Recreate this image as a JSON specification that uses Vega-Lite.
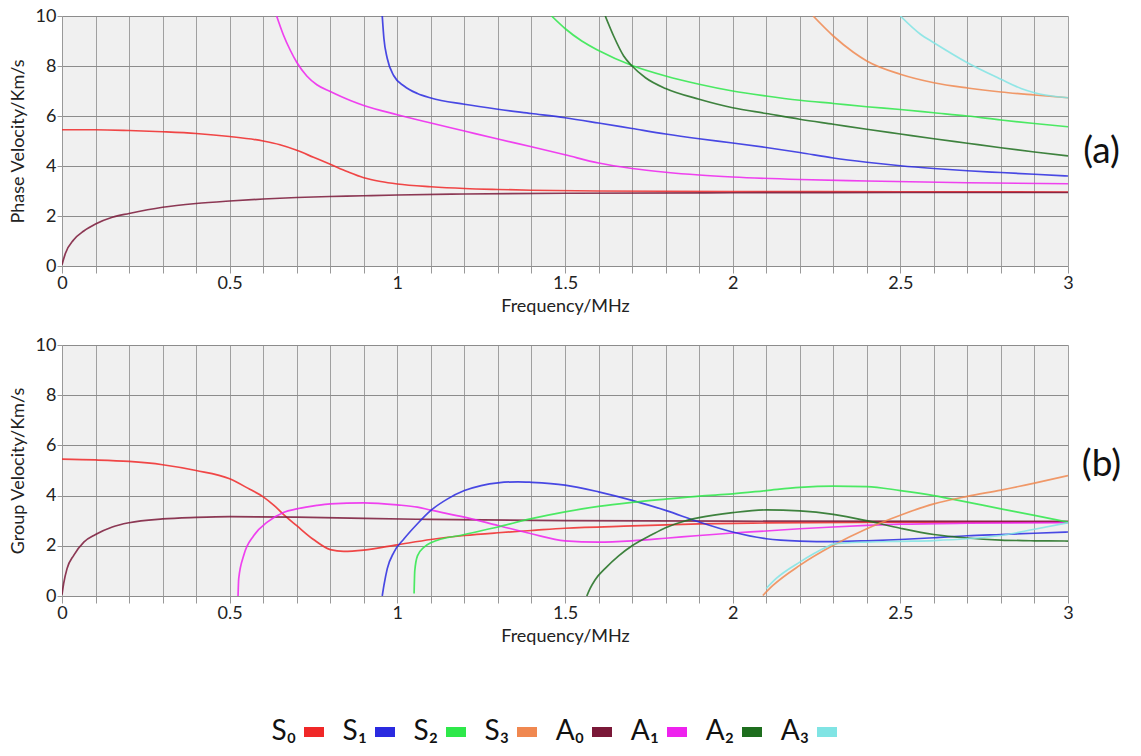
{
  "$schema": "https://vega.github.io/schema/vega-lite/v6.json",
  "padding": {"left": 9, "top": 7, "right": 5, "bottom": 0},
  "background": "white",
  "spacing": 21,
  "datasets": {
    "phase": [
      {"m": "S₀", "f": 0, "v": 5.45}, {"m": "S₀", "f": 0.1, "v": 5.45}, {"m": "S₀", "f": 0.2, "v": 5.42}, {"m": "S₀", "f": 0.3, "v": 5.37}, {"m": "S₀", "f": 0.4, "v": 5.3}, {"m": "S₀", "f": 0.5, "v": 5.18}, {"m": "S₀", "f": 0.6, "v": 5.0}, {"m": "S₀", "f": 0.65, "v": 4.85}, {"m": "S₀", "f": 0.7, "v": 4.63}, {"m": "S₀", "f": 0.75, "v": 4.35}, {"m": "S₀", "f": 0.8, "v": 4.07}, {"m": "S₀", "f": 0.85, "v": 3.78}, {"m": "S₀", "f": 0.9, "v": 3.53}, {"m": "S₀", "f": 0.95, "v": 3.38}, {"m": "S₀", "f": 1.0, "v": 3.28}, {"m": "S₀", "f": 1.1, "v": 3.17}, {"m": "S₀", "f": 1.2, "v": 3.1}, {"m": "S₀", "f": 1.3, "v": 3.06}, {"m": "S₀", "f": 1.4, "v": 3.03}, {"m": "S₀", "f": 1.6, "v": 3.0}, {"m": "S₀", "f": 2.0, "v": 2.98}, {"m": "S₀", "f": 2.5, "v": 2.97}, {"m": "S₀", "f": 3.0, "v": 2.96},
      {"m": "A₀", "f": 0, "v": 0.05}, {"m": "A₀", "f": 0.01, "v": 0.5}, {"m": "A₀", "f": 0.035, "v": 1.05}, {"m": "A₀", "f": 0.065, "v": 1.4}, {"m": "A₀", "f": 0.1, "v": 1.68}, {"m": "A₀", "f": 0.15, "v": 1.95}, {"m": "A₀", "f": 0.2, "v": 2.1}, {"m": "A₀", "f": 0.3, "v": 2.35}, {"m": "A₀", "f": 0.4, "v": 2.5}, {"m": "A₀", "f": 0.5, "v": 2.6}, {"m": "A₀", "f": 0.6, "v": 2.68}, {"m": "A₀", "f": 0.7, "v": 2.74}, {"m": "A₀", "f": 0.8, "v": 2.78}, {"m": "A₀", "f": 0.9, "v": 2.81}, {"m": "A₀", "f": 1.0, "v": 2.84}, {"m": "A₀", "f": 1.2, "v": 2.88}, {"m": "A₀", "f": 1.5, "v": 2.91}, {"m": "A₀", "f": 2.0, "v": 2.93}, {"m": "A₀", "f": 2.5, "v": 2.94}, {"m": "A₀", "f": 3.0, "v": 2.94},
      {"m": "A₁", "f": 0.64, "v": 10}, {"m": "A₁", "f": 0.66, "v": 9.25}, {"m": "A₁", "f": 0.68, "v": 8.65}, {"m": "A₁", "f": 0.7, "v": 8.15}, {"m": "A₁", "f": 0.73, "v": 7.6}, {"m": "A₁", "f": 0.76, "v": 7.25}, {"m": "A₁", "f": 0.8, "v": 6.98}, {"m": "A₁", "f": 0.86, "v": 6.62}, {"m": "A₁", "f": 0.9, "v": 6.42}, {"m": "A₁", "f": 1.0, "v": 6.05}, {"m": "A₁", "f": 1.1, "v": 5.72}, {"m": "A₁", "f": 1.2, "v": 5.4}, {"m": "A₁", "f": 1.3, "v": 5.08}, {"m": "A₁", "f": 1.4, "v": 4.77}, {"m": "A₁", "f": 1.5, "v": 4.45}, {"m": "A₁", "f": 1.6, "v": 4.12}, {"m": "A₁", "f": 1.7, "v": 3.9}, {"m": "A₁", "f": 1.8, "v": 3.75}, {"m": "A₁", "f": 1.9, "v": 3.64}, {"m": "A₁", "f": 2.0, "v": 3.56}, {"m": "A₁", "f": 2.2, "v": 3.46}, {"m": "A₁", "f": 2.4, "v": 3.4}, {"m": "A₁", "f": 2.7, "v": 3.33}, {"m": "A₁", "f": 3.0, "v": 3.29},
      {"m": "S₁", "f": 0.955, "v": 10}, {"m": "S₁", "f": 0.96, "v": 9.1}, {"m": "S₁", "f": 0.97, "v": 8.3}, {"m": "S₁", "f": 0.99, "v": 7.6}, {"m": "S₁", "f": 1.02, "v": 7.2}, {"m": "S₁", "f": 1.06, "v": 6.9}, {"m": "S₁", "f": 1.1, "v": 6.72}, {"m": "S₁", "f": 1.2, "v": 6.47}, {"m": "S₁", "f": 1.3, "v": 6.27}, {"m": "S₁", "f": 1.4, "v": 6.1}, {"m": "S₁", "f": 1.5, "v": 5.93}, {"m": "S₁", "f": 1.6, "v": 5.72}, {"m": "S₁", "f": 1.7, "v": 5.5}, {"m": "S₁", "f": 1.8, "v": 5.28}, {"m": "S₁", "f": 1.9, "v": 5.09}, {"m": "S₁", "f": 2.0, "v": 4.92}, {"m": "S₁", "f": 2.1, "v": 4.74}, {"m": "S₁", "f": 2.2, "v": 4.54}, {"m": "S₁", "f": 2.3, "v": 4.32}, {"m": "S₁", "f": 2.4, "v": 4.15}, {"m": "S₁", "f": 2.5, "v": 4.01}, {"m": "S₁", "f": 2.6, "v": 3.9}, {"m": "S₁", "f": 2.7, "v": 3.81}, {"m": "S₁", "f": 2.8, "v": 3.74}, {"m": "S₁", "f": 2.9, "v": 3.67}, {"m": "S₁", "f": 3.0, "v": 3.6},
      {"m": "S₂", "f": 1.46, "v": 10}, {"m": "S₂", "f": 1.5, "v": 9.5}, {"m": "S₂", "f": 1.55, "v": 9.0}, {"m": "S₂", "f": 1.6, "v": 8.62}, {"m": "S₂", "f": 1.7, "v": 8.02}, {"m": "S₂", "f": 1.8, "v": 7.6}, {"m": "S₂", "f": 1.9, "v": 7.27}, {"m": "S₂", "f": 2.0, "v": 7.0}, {"m": "S₂", "f": 2.1, "v": 6.8}, {"m": "S₂", "f": 2.2, "v": 6.63}, {"m": "S₂", "f": 2.3, "v": 6.5}, {"m": "S₂", "f": 2.4, "v": 6.37}, {"m": "S₂", "f": 2.5, "v": 6.26}, {"m": "S₂", "f": 2.6, "v": 6.13}, {"m": "S₂", "f": 2.7, "v": 6.0}, {"m": "S₂", "f": 2.8, "v": 5.84}, {"m": "S₂", "f": 2.9, "v": 5.7}, {"m": "S₂", "f": 3.0, "v": 5.57},
      {"m": "A₂", "f": 1.62, "v": 10}, {"m": "A₂", "f": 1.645, "v": 9.2}, {"m": "A₂", "f": 1.675, "v": 8.4}, {"m": "A₂", "f": 1.7, "v": 8.0}, {"m": "A₂", "f": 1.74, "v": 7.53}, {"m": "A₂", "f": 1.8, "v": 7.1}, {"m": "A₂", "f": 1.9, "v": 6.67}, {"m": "A₂", "f": 2.0, "v": 6.33}, {"m": "A₂", "f": 2.1, "v": 6.1}, {"m": "A₂", "f": 2.2, "v": 5.87}, {"m": "A₂", "f": 2.3, "v": 5.67}, {"m": "A₂", "f": 2.4, "v": 5.47}, {"m": "A₂", "f": 2.5, "v": 5.28}, {"m": "A₂", "f": 2.6, "v": 5.09}, {"m": "A₂", "f": 2.7, "v": 4.91}, {"m": "A₂", "f": 2.8, "v": 4.73}, {"m": "A₂", "f": 2.9, "v": 4.56}, {"m": "A₂", "f": 3.0, "v": 4.4},
      {"m": "S₃", "f": 2.24, "v": 10}, {"m": "S₃", "f": 2.3, "v": 9.2}, {"m": "S₃", "f": 2.36, "v": 8.55}, {"m": "S₃", "f": 2.4, "v": 8.2}, {"m": "S₃", "f": 2.5, "v": 7.67}, {"m": "S₃", "f": 2.6, "v": 7.33}, {"m": "S₃", "f": 2.7, "v": 7.12}, {"m": "S₃", "f": 2.8, "v": 6.96}, {"m": "S₃", "f": 2.9, "v": 6.84}, {"m": "S₃", "f": 3.0, "v": 6.73},
      {"m": "A₃", "f": 2.5, "v": 10}, {"m": "A₃", "f": 2.56, "v": 9.27}, {"m": "A₃", "f": 2.6, "v": 8.93}, {"m": "A₃", "f": 2.7, "v": 8.13}, {"m": "A₃", "f": 2.8, "v": 7.47}, {"m": "A₃", "f": 2.86, "v": 7.1}, {"m": "A₃", "f": 2.9, "v": 6.93}, {"m": "A₃", "f": 3.0, "v": 6.73}
    ],
    "group": [
      {"m": "S₀", "f": 0, "v": 5.45}, {"m": "S₀", "f": 0.1, "v": 5.42}, {"m": "S₀", "f": 0.2, "v": 5.36}, {"m": "S₀", "f": 0.3, "v": 5.23}, {"m": "S₀", "f": 0.4, "v": 5.0}, {"m": "S₀", "f": 0.5, "v": 4.67}, {"m": "S₀", "f": 0.56, "v": 4.25}, {"m": "S₀", "f": 0.6, "v": 3.95}, {"m": "S₀", "f": 0.633, "v": 3.6}, {"m": "S₀", "f": 0.667, "v": 3.17}, {"m": "S₀", "f": 0.7, "v": 2.8}, {"m": "S₀", "f": 0.75, "v": 2.25}, {"m": "S₀", "f": 0.8, "v": 1.85}, {"m": "S₀", "f": 0.84, "v": 1.78}, {"m": "S₀", "f": 0.9, "v": 1.83}, {"m": "S₀", "f": 1.0, "v": 2.04}, {"m": "S₀", "f": 1.1, "v": 2.25}, {"m": "S₀", "f": 1.2, "v": 2.41}, {"m": "S₀", "f": 1.3, "v": 2.52}, {"m": "S₀", "f": 1.4, "v": 2.61}, {"m": "S₀", "f": 1.5, "v": 2.7}, {"m": "S₀", "f": 1.7, "v": 2.79}, {"m": "S₀", "f": 1.9, "v": 2.87}, {"m": "S₀", "f": 2.1, "v": 2.91}, {"m": "S₀", "f": 2.5, "v": 2.94}, {"m": "S₀", "f": 3.0, "v": 2.95},
      {"m": "A₀", "f": 0, "v": 0.05}, {"m": "A₀", "f": 0.005, "v": 0.5}, {"m": "A₀", "f": 0.015, "v": 1.09}, {"m": "A₀", "f": 0.035, "v": 1.62}, {"m": "A₀", "f": 0.065, "v": 2.15}, {"m": "A₀", "f": 0.1, "v": 2.45}, {"m": "A₀", "f": 0.15, "v": 2.75}, {"m": "A₀", "f": 0.2, "v": 2.92}, {"m": "A₀", "f": 0.3, "v": 3.07}, {"m": "A₀", "f": 0.4, "v": 3.13}, {"m": "A₀", "f": 0.5, "v": 3.16}, {"m": "A₀", "f": 0.7, "v": 3.14}, {"m": "A₀", "f": 0.9, "v": 3.09}, {"m": "A₀", "f": 1.1, "v": 3.05}, {"m": "A₀", "f": 1.5, "v": 3.0}, {"m": "A₀", "f": 2.0, "v": 2.98}, {"m": "A₀", "f": 3.0, "v": 2.97},
      {"m": "A₁", "f": 0.525, "v": 0}, {"m": "A₁", "f": 0.527, "v": 0.69}, {"m": "A₁", "f": 0.542, "v": 1.62}, {"m": "A₁", "f": 0.572, "v": 2.41}, {"m": "A₁", "f": 0.612, "v": 2.94}, {"m": "A₁", "f": 0.662, "v": 3.34}, {"m": "A₁", "f": 0.7, "v": 3.47}, {"m": "A₁", "f": 0.76, "v": 3.61}, {"m": "A₁", "f": 0.8, "v": 3.67}, {"m": "A₁", "f": 0.9, "v": 3.71}, {"m": "A₁", "f": 1.0, "v": 3.63}, {"m": "A₁", "f": 1.06, "v": 3.54}, {"m": "A₁", "f": 1.1, "v": 3.42}, {"m": "A₁", "f": 1.2, "v": 3.14}, {"m": "A₁", "f": 1.3, "v": 2.81}, {"m": "A₁", "f": 1.4, "v": 2.48}, {"m": "A₁", "f": 1.5, "v": 2.2}, {"m": "A₁", "f": 1.6, "v": 2.15}, {"m": "A₁", "f": 1.7, "v": 2.2}, {"m": "A₁", "f": 1.8, "v": 2.3}, {"m": "A₁", "f": 1.9, "v": 2.41}, {"m": "A₁", "f": 2.0, "v": 2.51}, {"m": "A₁", "f": 2.1, "v": 2.59}, {"m": "A₁", "f": 2.2, "v": 2.68}, {"m": "A₁", "f": 2.3, "v": 2.75}, {"m": "A₁", "f": 2.4, "v": 2.81}, {"m": "A₁", "f": 2.5, "v": 2.86}, {"m": "A₁", "f": 2.7, "v": 2.9}, {"m": "A₁", "f": 3.0, "v": 2.92},
      {"m": "S₁", "f": 0.955, "v": 0}, {"m": "S₁", "f": 0.96, "v": 0.42}, {"m": "S₁", "f": 0.97, "v": 1.09}, {"m": "S₁", "f": 0.99, "v": 1.75}, {"m": "S₁", "f": 1.02, "v": 2.28}, {"m": "S₁", "f": 1.06, "v": 2.88}, {"m": "S₁", "f": 1.1, "v": 3.41}, {"m": "S₁", "f": 1.15, "v": 3.87}, {"m": "S₁", "f": 1.2, "v": 4.2}, {"m": "S₁", "f": 1.25, "v": 4.4}, {"m": "S₁", "f": 1.3, "v": 4.51}, {"m": "S₁", "f": 1.36, "v": 4.55}, {"m": "S₁", "f": 1.4, "v": 4.53}, {"m": "S₁", "f": 1.5, "v": 4.42}, {"m": "S₁", "f": 1.6, "v": 4.15}, {"m": "S₁", "f": 1.7, "v": 3.81}, {"m": "S₁", "f": 1.8, "v": 3.41}, {"m": "S₁", "f": 1.9, "v": 2.95}, {"m": "S₁", "f": 2.0, "v": 2.55}, {"m": "S₁", "f": 2.1, "v": 2.28}, {"m": "S₁", "f": 2.2, "v": 2.19}, {"m": "S₁", "f": 2.3, "v": 2.17}, {"m": "S₁", "f": 2.4, "v": 2.2}, {"m": "S₁", "f": 2.5, "v": 2.25}, {"m": "S₁", "f": 2.6, "v": 2.32}, {"m": "S₁", "f": 2.7, "v": 2.4}, {"m": "S₁", "f": 2.8, "v": 2.45}, {"m": "S₁", "f": 2.9, "v": 2.5}, {"m": "S₁", "f": 3.0, "v": 2.55},
      {"m": "S₂", "f": 1.05, "v": 0.1}, {"m": "S₂", "f": 1.052, "v": 1.0}, {"m": "S₂", "f": 1.06, "v": 1.6}, {"m": "S₂", "f": 1.08, "v": 1.95}, {"m": "S₂", "f": 1.1, "v": 2.12}, {"m": "S₂", "f": 1.2, "v": 2.45}, {"m": "S₂", "f": 1.3, "v": 2.75}, {"m": "S₂", "f": 1.4, "v": 3.08}, {"m": "S₂", "f": 1.5, "v": 3.35}, {"m": "S₂", "f": 1.6, "v": 3.57}, {"m": "S₂", "f": 1.7, "v": 3.73}, {"m": "S₂", "f": 1.8, "v": 3.86}, {"m": "S₂", "f": 1.9, "v": 3.98}, {"m": "S₂", "f": 2.0, "v": 4.07}, {"m": "S₂", "f": 2.1, "v": 4.2}, {"m": "S₂", "f": 2.2, "v": 4.33}, {"m": "S₂", "f": 2.3, "v": 4.38}, {"m": "S₂", "f": 2.4, "v": 4.36}, {"m": "S₂", "f": 2.5, "v": 4.2}, {"m": "S₂", "f": 2.6, "v": 4.0}, {"m": "S₂", "f": 2.7, "v": 3.74}, {"m": "S₂", "f": 2.8, "v": 3.47}, {"m": "S₂", "f": 2.9, "v": 3.21}, {"m": "S₂", "f": 3.0, "v": 2.94},
      {"m": "A₂", "f": 1.565, "v": 0}, {"m": "A₂", "f": 1.575, "v": 0.3}, {"m": "A₂", "f": 1.59, "v": 0.65}, {"m": "A₂", "f": 1.62, "v": 1.1}, {"m": "A₂", "f": 1.66, "v": 1.6}, {"m": "A₂", "f": 1.7, "v": 2.0}, {"m": "A₂", "f": 1.76, "v": 2.45}, {"m": "A₂", "f": 1.8, "v": 2.72}, {"m": "A₂", "f": 1.86, "v": 3.0}, {"m": "A₂", "f": 1.9, "v": 3.12}, {"m": "A₂", "f": 2.0, "v": 3.32}, {"m": "A₂", "f": 2.1, "v": 3.43}, {"m": "A₂", "f": 2.2, "v": 3.39}, {"m": "A₂", "f": 2.3, "v": 3.25}, {"m": "A₂", "f": 2.4, "v": 3.0}, {"m": "A₂", "f": 2.5, "v": 2.7}, {"m": "A₂", "f": 2.6, "v": 2.45}, {"m": "A₂", "f": 2.7, "v": 2.31}, {"m": "A₂", "f": 2.8, "v": 2.23}, {"m": "A₂", "f": 2.9, "v": 2.2}, {"m": "A₂", "f": 3.0, "v": 2.19},
      {"m": "S₃", "f": 2.09, "v": 0.02}, {"m": "S₃", "f": 2.12, "v": 0.42}, {"m": "S₃", "f": 2.2, "v": 1.22}, {"m": "S₃", "f": 2.3, "v": 2.02}, {"m": "S₃", "f": 2.4, "v": 2.68}, {"m": "S₃", "f": 2.5, "v": 3.22}, {"m": "S₃", "f": 2.6, "v": 3.67}, {"m": "S₃", "f": 2.7, "v": 3.97}, {"m": "S₃", "f": 2.8, "v": 4.22}, {"m": "S₃", "f": 2.9, "v": 4.5}, {"m": "S₃", "f": 3.0, "v": 4.8},
      {"m": "A₃", "f": 2.1, "v": 0.3}, {"m": "A₃", "f": 2.13, "v": 0.7}, {"m": "A₃", "f": 2.2, "v": 1.35}, {"m": "A₃", "f": 2.28, "v": 1.95}, {"m": "A₃", "f": 2.3, "v": 2.07}, {"m": "A₃", "f": 2.4, "v": 2.15}, {"m": "A₃", "f": 2.5, "v": 2.18}, {"m": "A₃", "f": 2.6, "v": 2.21}, {"m": "A₃", "f": 2.7, "v": 2.28}, {"m": "A₃", "f": 2.8, "v": 2.41}, {"m": "A₃", "f": 2.9, "v": 2.66}, {"m": "A₃", "f": 3.0, "v": 2.92}
    ]
  },
  "vconcat": [
    {
      "width": 1006,
      "height": 250,
      "layer": [
        {
          "data": {"name": "phase"},
          "mark": {"type": "line", "interpolate": "monotone", "strokeWidth": 1.7, "opacity": 0.85, "clip": true},
          "encoding": {
            "x": {"field": "f", "type": "quantitative", "scale": {"domain": [0, 3], "nice": false}, "axis": {"title": "Frequency/MHz"}},
            "y": {"field": "v", "type": "quantitative", "scale": {"domain": [0, 10], "nice": false}, "axis": {"title": "Phase Velocity/Km/s"}},
            "color": {
              "field": "m", "type": "nominal",
              "scale": {"domain": ["S₀", "S₁", "S₂", "S₃", "A₀", "A₁", "A₂", "A₃"], "range": ["#f02828", "#2a2ae0", "#2ee84a", "#f08850", "#7a1838", "#ee22ee", "#1e6e1e", "#80e4e4"]},
              "legend": {"orient": "none", "legendX": 237, "legendY": 701, "direction": "horizontal", "title": null}
            }
          }
        },
        {
          "data": {"values": [{"label": "(a)", "f": 3.1, "v": 4.55}]},
          "mark": {"type": "text", "fontSize": 37, "font": "Lato", "align": "center", "baseline": "middle", "color": "#111"},
          "encoding": {
            "x": {"field": "f", "type": "quantitative"},
            "y": {"field": "v", "type": "quantitative"},
            "text": {"field": "label"}
          }
        }
      ]
    },
    {
      "width": 1006,
      "height": 251,
      "layer": [
        {
          "data": {"name": "group"},
          "mark": {"type": "line", "interpolate": "monotone", "strokeWidth": 1.7, "opacity": 0.85, "clip": true},
          "encoding": {
            "x": {"field": "f", "type": "quantitative", "scale": {"domain": [0, 3], "nice": false}, "axis": {"title": "Frequency/MHz"}},
            "y": {"field": "v", "type": "quantitative", "scale": {"domain": [0, 10], "nice": false}, "axis": {"title": "Group Velocity/Km/s"}},
            "color": {"field": "m", "type": "nominal"}
          }
        },
        {
          "data": {"values": [{"label": "(b)", "f": 3.1, "v": 5.2}]},
          "mark": {"type": "text", "fontSize": 37, "font": "Lato", "align": "center", "baseline": "middle", "color": "#111"},
          "encoding": {
            "x": {"field": "f", "type": "quantitative"},
            "y": {"field": "v", "type": "quantitative"},
            "text": {"field": "label"}
          }
        }
      ]
    }
  ],
  "config": {
    "font": "Lato",
    "view": {"fill": "#f0f0f0", "stroke": null},
    "axisX": {
      "values": [0, 0.1, 0.2, 0.3, 0.4, 0.5, 0.6, 0.7, 0.8, 0.9, 1, 1.1, 1.2, 1.3, 1.4, 1.5, 1.6, 1.7, 1.8, 1.9, 2, 2.1, 2.2, 2.3, 2.4, 2.5, 2.6, 2.7, 2.8, 2.9, 3],
      "labelExpr": "abs(round(datum.value * 2) - datum.value * 2) < 0.001 ? format(datum.value, '~g') : ''",
      "labelFlush": false,
      "labelOverlap": false,
      "labelFontSize": 18,
      "labelColor": "#222",
      "labelPadding": 1,
      "tickSize": 7,
      "tickColor": "#999",
      "gridColor": "#a0a0a0",
      "gridOpacity": 1,
      "domain": false,
      "titleFontSize": 18,
      "titleFontWeight": "normal",
      "titleColor": "#222",
      "titlePadding": 5
    },
    "axisY": {
      "values": [0, 1, 2, 3, 4, 5, 6, 7, 8, 9, 10],
      "labelExpr": "datum.value % 2 == 0 ? format(datum.value, '~g') : ''",
      "labelFlush": false,
      "labelOverlap": false,
      "labelFontSize": 18,
      "labelColor": "#222",
      "labelPadding": 1,
      "tickSize": 5,
      "tickColor": "#999",
      "gridColor": {"condition": {"test": "datum.value % 2 == 0", "value": "#8c8c8c"}, "value": "#b8b8b8"},
      "gridOpacity": 1,
      "domainColor": "#999",
      "titleFontSize": 18,
      "titleFontWeight": "normal",
      "titleColor": "#222",
      "titlePadding": 8
    },
    "legend": {
      "labelFontSize": 28,
      "labelFont": "Lato",
      "labelColor": "#111",
      "symbolType": "M-1,0H1",
      "symbolSize": 400,
      "symbolStrokeWidth": 10,
      "symbolOpacity": 1,
      "labelAlign": "right",
      "labelOffset": -33,
      "columnPadding": -2,
      "labelLimit": 0,
      "padding": 0
    }
  }
}
